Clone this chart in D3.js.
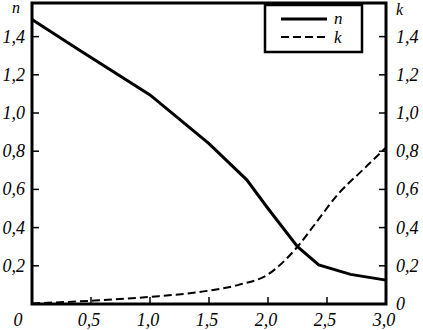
<!DOCTYPE html>
<html>
<head>
<meta charset="utf-8">
<script src="https://cdn.jsdelivr.net/npm/d3@7"></script>
<style>
  body { margin: 0; background: #fff; }
</style>
</head>
<body>
<script>
// n(x)
const nX = [0, 0.4, 1.0, 1.5, 1.82, 2.0, 2.25, 2.43, 2.7, 3.0]
const nY = [1.49, 1.33, 1.095, 0.84, 0.65, 0.5, 0.30, 0.205, 0.155, 0.125]
// k(x)
const kX = [0, 0.5, 1.0, 1.5, 1.75, 2.0, 2.25, 2.4, 2.6, 2.8, 3.0]
const kY = [0.003, 0.017, 0.037, 0.07, 0.1, 0.155, 0.30, 0.42, 0.58, 0.70, 0.82]

const xTicks = [0.5, 1.0, 1.5, 2.0, 2.5, 3.0]
const yTicks = [0.2, 0.4, 0.6, 0.8, 1.0, 1.2, 1.4]
const fmt = d => d3.format('.1f')(d).replace('.', ',')

const width = 423
const height = 330

const x = d3.scaleLinear().domain([0, 3]).range([32, 386])
const y = d3.scaleLinear().domain([0, 1.576]).range([304, 3])

const svg = d3.select('body')
  .append('svg')
  .attr('width', width)
  .attr('height', height)
  .style('font-family', '"Liberation Serif", "DejaVu Serif", serif')
  .style('font-style', 'italic')

// frame
svg.append('rect')
  .attr('x', x(0)).attr('y', y(1.576))
  .attr('width', x(3) - x(0)).attr('height', y(0) - y(1.576))
  .attr('fill', 'none').attr('stroke', '#000').attr('stroke-width', 3)

// inward ticks
svg.append('g').selectAll('line').data(xTicks.slice(0, -1)).enter()
  .append('line')
  .attr('x1', d => x(d)).attr('x2', d => x(d))
  .attr('y1', y(0)).attr('y2', y(0) - 7)
  .attr('stroke', '#000').attr('stroke-width', 1.5)

svg.append('g').selectAll('line').data(yTicks).enter()
  .append('line')
  .attr('x1', x(0)).attr('x2', x(0) + 7)
  .attr('y1', d => y(d)).attr('y2', d => y(d))
  .attr('stroke', '#000').attr('stroke-width', 1.5)

svg.append('g').selectAll('line').data(yTicks).enter()
  .append('line')
  .attr('x1', x(3)).attr('x2', x(3) - 7)
  .attr('y1', d => y(d)).attr('y2', d => y(d))
  .attr('stroke', '#000').attr('stroke-width', 1.5)

// tick labels
svg.append('g').selectAll('text').data(yTicks).enter()
  .append('text')
  .attr('x', 25).attr('y', d => y(d) + 6)
  .attr('text-anchor', 'end')
  .attr('font-size', 18)
  .text(fmt)

svg.append('g').selectAll('text').data([0].concat(yTicks)).enter()
  .append('text')
  .attr('x', 396).attr('y', d => y(d) + 6)
  .attr('font-size', 18)
  .text(d => d === 0 ? '0' : fmt(d))

svg.append('g').selectAll('text').data(xTicks).enter()
  .append('text')
  .attr('x', d => x(d) - 2).attr('y', 326)
  .attr('text-anchor', 'middle')
  .attr('font-size', 18)
  .text(fmt)

svg.append('text').attr('x', 18).attr('y', 326)
  .attr('text-anchor', 'middle').attr('font-size', 18).text('0')

// axis titles
svg.append('text').attr('x', 12).attr('y', 13).attr('font-size', 16).text('n')
svg.append('text').attr('x', 396).attr('y', 15).attr('font-size', 16).text('k')

// curves
const line = d3.line().x(d => x(d[0])).y(d => y(d[1]))

svg.append('path')
  .attr('d', line(d3.zip(nX, nY)))
  .attr('fill', 'none').attr('stroke', '#000').attr('stroke-width', 3)

svg.append('path')
  .attr('d', line.curve(d3.curveMonotoneX)(d3.zip(kX, kY)))
  .attr('fill', 'none').attr('stroke', '#000').attr('stroke-width', 2)
  .attr('stroke-dasharray', '8,4')

// legend
const lg = svg.append('g')
lg.append('rect')
  .attr('x', 265).attr('y', 5).attr('width', 97).attr('height', 47)
  .attr('fill', '#fff').attr('stroke', '#000').attr('stroke-width', 2.5)
lg.append('line').attr('x1', 281).attr('x2', 327).attr('y1', 19).attr('y2', 19)
  .attr('stroke', '#000').attr('stroke-width', 3)
lg.append('line').attr('x1', 281).attr('x2', 327).attr('y1', 37).attr('y2', 37)
  .attr('stroke', '#000').attr('stroke-width', 2).attr('stroke-dasharray', '8,4')
lg.append('text').attr('x', 334).attr('y', 24).attr('font-size', 17).text('n')
lg.append('text').attr('x', 334).attr('y', 43).attr('font-size', 17).text('k')
</script>
</body>
</html>
